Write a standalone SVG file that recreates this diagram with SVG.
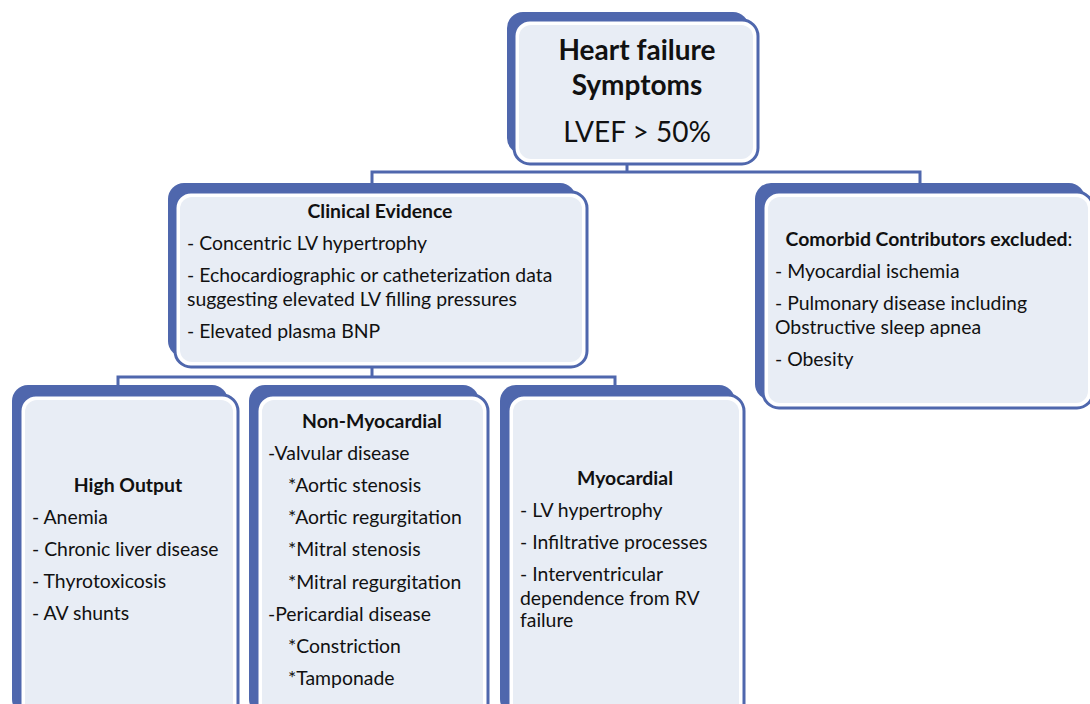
<svg xmlns="http://www.w3.org/2000/svg" width="1090" height="704" viewBox="0 0 1090 704">
<style>
.sh{fill:#4F67AD}
.fr{fill:#ffffff;stroke:#4F67AD;stroke-width:3}
.in{fill:#E8EDF5}
.t{font-family:Lato,"Open Sans",sans-serif;font-size:19.4px;fill:#111}
.big{font-size:28px}
.b{font-weight:bold}
.c{text-anchor:middle}
.ln{fill:none;stroke:#4F67AD;stroke-width:3}
</style>
<rect width="1090" height="704" fill="#ffffff"/>
<g id="connectors">
<path class="ln" d="M627,165 V172 M372,183 V172 H920 V183"/>
<path class="ln" d="M372,367 V377 M118,386 V377 H615 V386"/>
</g>
<g id="top">
<rect class="sh" x="507" y="12" width="242" height="142" rx="16"/>
<rect class="fr" x="514" y="20" width="244" height="144" rx="16"/>
<rect class="in" x="519" y="25" width="234" height="134" rx="12"/>
<text class="t big b c" x="637" y="60">Heart failure</text>
<text class="t big b c" x="637" y="95">Symptoms</text>
<text class="t big c" x="637" y="142">LVEF &gt; 50%</text>
</g>
<g id="clinical">
<rect class="sh" x="168" y="183" width="408" height="174" rx="16"/>
<rect class="fr" x="175" y="192" width="412" height="175" rx="16"/>
<rect class="in" x="180" y="197" width="402" height="165" rx="12"/>
<text class="t b c" x="380" y="218">Clinical Evidence</text>
<text class="t" x="187" y="250">- Concentric LV hypertrophy</text>
<text class="t" x="187" y="282">- Echocardiographic or catheterization data</text>
<text class="t" x="187" y="306">suggesting elevated LV filling pressures</text>
<text class="t" x="187" y="338">- Elevated plasma BNP</text>
</g>
<g id="comorbid">
<rect class="sh" x="755" y="183" width="330" height="217" rx="16"/>
<rect class="fr" x="763" y="192" width="330" height="216" rx="16"/>
<rect class="in" x="768" y="197" width="320" height="206" rx="12"/>
<text class="t b c" x="929" y="246">Comorbid Contributors excluded<tspan font-weight="normal">:</tspan></text>
<text class="t" x="775" y="278">- Myocardial ischemia</text>
<text class="t" x="775" y="310">- Pulmonary disease including</text>
<text class="t" x="775" y="334">Obstructive sleep apnea</text>
<text class="t" x="775" y="366">- Obesity</text>
</g>
<g id="highoutput">
<rect class="sh" x="12" y="385" width="216" height="330" rx="16"/>
<rect class="fr" x="20" y="395" width="218" height="330" rx="16"/>
<rect class="in" x="25" y="400" width="208" height="320" rx="12"/>
<text class="t b c" x="128" y="492">High Output</text>
<text class="t" x="32" y="524">- Anemia</text>
<text class="t" x="32" y="556">- Chronic liver disease</text>
<text class="t" x="32" y="588">- Thyrotoxicosis</text>
<text class="t" x="32" y="620">- AV shunts</text>
</g>
<g id="nonmyocardial">
<rect class="sh" x="249" y="385" width="230" height="330" rx="16"/>
<rect class="fr" x="257" y="395" width="231" height="330" rx="16"/>
<rect class="in" x="262" y="400" width="221" height="320" rx="12"/>
<text class="t b c" x="372" y="428">Non-Myocardial</text>
<text class="t" x="268" y="460">-Valvular disease</text>
<text class="t" x="288" y="492">*Aortic stenosis</text>
<text class="t" x="288" y="524">*Aortic regurgitation</text>
<text class="t" x="288" y="556">*Mitral stenosis</text>
<text class="t" x="288" y="589">*Mitral regurgitation</text>
<text class="t" x="268" y="621">-Pericardial disease</text>
<text class="t" x="288" y="653">*Constriction</text>
<text class="t" x="288" y="685">*Tamponade</text>
</g>
<g id="myocardial">
<rect class="sh" x="500" y="385" width="235" height="330" rx="16"/>
<rect class="fr" x="508" y="395" width="236" height="330" rx="16"/>
<rect class="in" x="513" y="400" width="226" height="320" rx="12"/>
<text class="t b c" x="625" y="485">Myocardial</text>
<text class="t" x="520" y="517">- LV hypertrophy</text>
<text class="t" x="520" y="549">- Infiltrative processes</text>
<text class="t" x="520" y="581">- Interventricular</text>
<text class="t" x="520" y="605">dependence from RV</text>
<text class="t" x="520" y="627">failure</text>
</g>
</svg>
